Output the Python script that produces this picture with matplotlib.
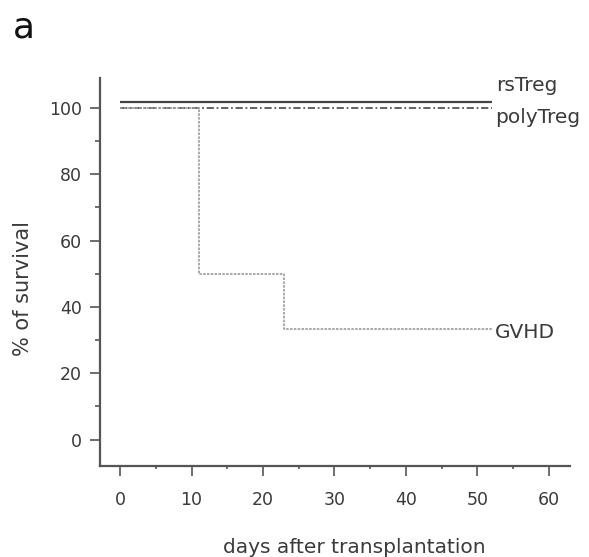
import matplotlib
matplotlib.use("Agg")
import matplotlib.pyplot as plt
import matplotlib.transforms as mtransforms
from matplotlib.ticker import MultipleLocator

# Survival curves (step functions): days and % survival
rs_days = [0, 52]
rs_surv = [100, 100]
poly_days = [0, 52]
poly_surv = [100, 100]
gvhd_days = [0, 11, 23, 52]
gvhd_surv = [100, 50, 33.3, 33.3]

x_ticks = [0, 10, 20, 30, 40, 50, 60]
y_ticks = [0, 20, 40, 60, 80, 100]

fig = plt.figure(figsize=(5.89, 5.57), dpi=100)
ax = fig.add_axes([0.170, 0.163, 0.798, 0.697])

text_col = "#3a3a3a"
axis_col = "#555555"

# rsTreg sits a hair above 100 so it stays visible over polyTreg
rs_shift = mtransforms.offset_copy(ax.transData, fig=fig, x=0, y=6, units="dots")
ax.step(rs_days, rs_surv, where="post", color="#444444", lw=1.6,
        transform=rs_shift, solid_capstyle="butt")
ax.step(poly_days, poly_surv, where="post", color="#555555", lw=1.3,
        linestyle=(0, (4, 1.5, 1, 1.5)))
ax.step(gvhd_days, gvhd_surv, where="post", color="#9a9a9a", lw=1.2,
        linestyle=(0, (1.5, 0.8)))

lab_kw = dict(color=text_col, fontsize=14.5, va="baseline", ha="left")
ax.text(52.6, 105.0, "rsTreg", **lab_kw)
ax.text(52.5, 95.3, "polyTreg", **lab_kw)
ax.text(52.5, 30.6, "GVHD", **lab_kw)

ax.set_xlim(-2.8, 63)
ax.set_ylim(-8, 109)
ax.set_xticks(x_ticks)
ax.set_yticks(y_ticks)
ax.xaxis.set_minor_locator(MultipleLocator(5))
ax.yaxis.set_minor_locator(MultipleLocator(10))

for s in ["top", "right"]:
    ax.spines[s].set_visible(False)
for s in ["left", "bottom"]:
    ax.spines[s].set_color(axis_col)
    ax.spines[s].set_linewidth(1.6)

ax.tick_params(axis="both", which="major", direction="out", length=7, width=1.2,
               color=axis_col, labelcolor=text_col, labelsize=12.5)
ax.tick_params(axis="x", which="major", pad=11)
ax.tick_params(axis="y", which="major", pad=6)
ax.tick_params(axis="y", which="minor", direction="out", length=3.5, width=1.2,
               color=axis_col)
ax.tick_params(axis="x", which="minor", direction="out", length=2.5, width=1.2,
               color=axis_col)

ax.set_xlabel("days after transplantation", color=text_col, fontsize=14.5)
ax.xaxis.set_label_coords(0.54, -0.209)
ax.xaxis.label.set_va("center")
ax.set_ylabel("% of survival", color=text_col, fontsize=15)
ax.yaxis.set_label_coords(-0.164, 0.459)
ax.yaxis.label.set_va("center")

fig.text(0.022, 0.950, "a", fontsize=26, color="#111111", va="center", ha="left")

fig.savefig("out.png", dpi=100)
